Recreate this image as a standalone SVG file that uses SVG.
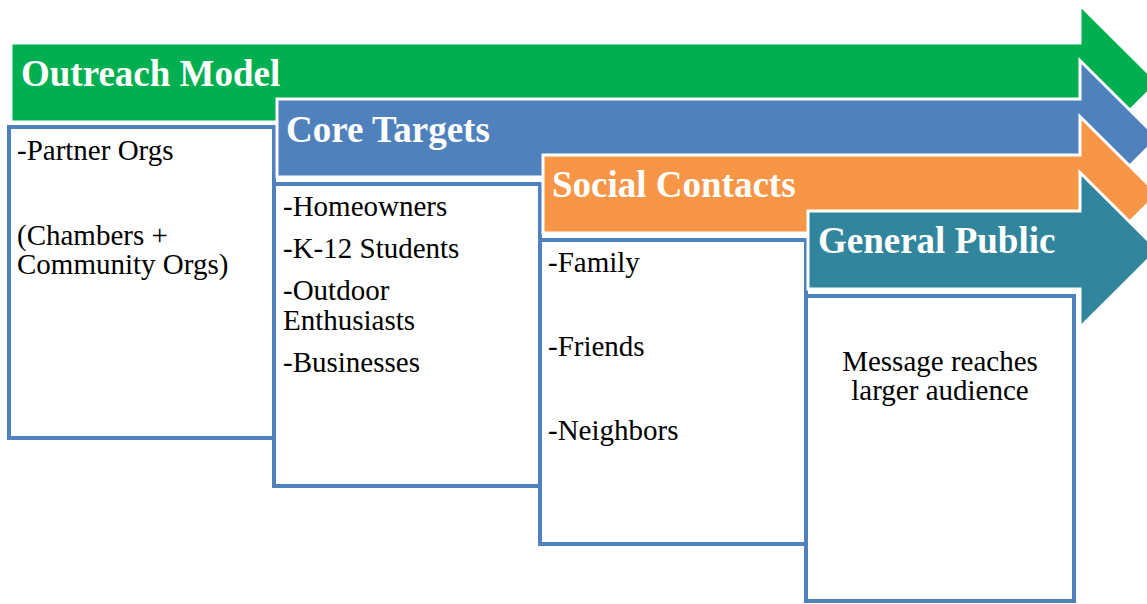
<svg xmlns="http://www.w3.org/2000/svg" width="1147" height="604" viewBox="0 0 1147 604">
<style>
.box{fill:#fff;stroke:#4F81BD;stroke-width:4}
.arrow{stroke:#fff;stroke-width:3;stroke-linejoin:miter}
.hdr{font-family:"Liberation Serif","Times New Roman",serif;font-weight:bold;font-size:37px;fill:#fff}
.txt{font-family:"Liberation Serif","Times New Roman",serif;font-size:29px;fill:#000}
</style>
<rect width="1147" height="604" fill="#fff"/>
<g id="box-outreach"><rect class="box" x="9" y="127" width="265" height="311"/></g>
<g id="box-core"><rect class="box" x="274" y="184" width="266" height="302"/></g>
<g id="box-social"><rect class="box" x="540" y="240" width="266" height="304"/></g>
<g id="box-public"><rect class="box" x="806" y="296" width="268" height="305"/></g>
<g id="arrow-outreach">
<path class="arrow" fill="#00B050" d="M11,43 L1080,43 L1080,5 L1158,82.5 L1080,160 L1080,122 L11,122 Z"/>
<text class="hdr" x="21" y="86">Outreach Model</text>
</g>
<g id="arrow-core">
<path class="arrow" fill="#4F81BD" d="M277,99 L1080,99 L1080,60.5 L1158,138 L1080,215.5 L1080,177 L277,177 Z"/>
<text class="hdr" x="286" y="142">Core Targets</text>
</g>
<g id="arrow-social">
<path class="arrow" fill="#F79646" d="M543,155 L1080,155 L1080,116.5 L1158,194 L1080,271.5 L1080,233 L543,233 Z"/>
<text class="hdr" x="552" y="197">Social Contacts</text>
</g>
<g id="arrow-public">
<path class="arrow" fill="#31859C" d="M808,211 L1080,211 L1080,172.5 L1158,250 L1080,327.5 L1080,289 L808,289 Z"/>
<text class="hdr" x="818" y="253">General Public</text>
</g>
<g id="text-outreach">
<text class="txt" x="17" y="160">-Partner Orgs</text>
<text class="txt" x="17" y="245">(Chambers +</text>
<text class="txt" x="17" y="274">Community Orgs)</text>
</g>
<g id="text-core">
<text class="txt" x="283" y="216">-Homeowners</text>
<text class="txt" x="283" y="258">-K-12 Students</text>
<text class="txt" x="283" y="300">-Outdoor</text>
<text class="txt" x="283" y="330">Enthusiasts</text>
<text class="txt" x="283" y="372">-Businesses</text>
</g>
<g id="text-social">
<text class="txt" x="548" y="272">-Family</text>
<text class="txt" x="548" y="356">-Friends</text>
<text class="txt" x="548" y="440">-Neighbors</text>
</g>
<g id="text-public">
<text class="txt" x="940" y="371" text-anchor="middle">Message reaches</text>
<text class="txt" x="940" y="400" text-anchor="middle">larger audience</text>
</g>
</svg>
